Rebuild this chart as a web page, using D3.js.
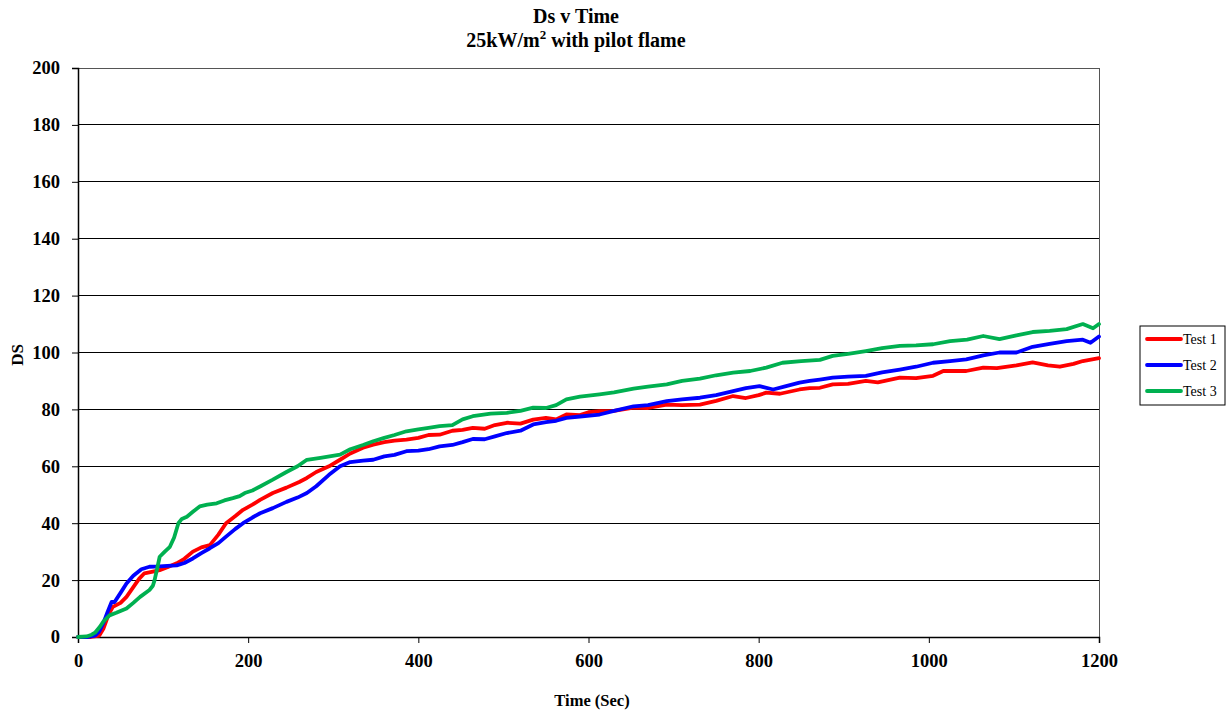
<!DOCTYPE html>
<html>
<head>
<meta charset="utf-8">
<script src="https://cdn.jsdelivr.net/npm/d3@7"></script>
<style>
  body { margin: 0; background: #fff; }
  text { font-family: "Liberation Serif", "Times New Roman", serif; }
</style>
</head>
<body>
<div id="chart"></div>
<script>
// data: [time (s), Ds]
const test1 = [[0,0],[15,0],[25,0.5],[30,3],[36,8],[41,10.6],[50,12],[57,14.1],[65,17.5],[72,20.5],[78,22.4],[88,23],[96,23.5],[105,24.5],[116,25.9],[125,27.5],[135,30],[145,31.5],[155,32.3],[165,36],[174,40],[185,42.5],[194,44.7],[205,46.5],[214,48.2],[229,50.6],[245,52.5],[260,54.5],[269,55.9],[280,58],[295,60],[308,62.3],[320,64.5],[335,66.5],[347,67.6],[360,68.5],[372,69],[386,69.4],[400,70],[412,71],[425,71.1],[440,72.5],[452,72.8],[464,73.5],[478,73.2],[490,74.5],[504,75.3],[520,75],[535,76.4],[550,77],[562,76.5],[574,78.2],[590,78],[600,79],[613,79.4],[630,79.5],[653,80.6],[670,80.5],[692,81.7],[710,81.5],[731,81.7],[750,83],[770,84.7],[785,84],[800,85],[809,85.9],[825,85.5],[848,87],[860,87.5],[872,87.6],[887,88.8],[905,89],[926,90],[940,89.5],[966,91.2],[985,91],[1005,91.8],[1017,93.5],[1044,93.5],[1064,94.7],[1080,94.5],[1103,95.5],[1122,96.5],[1140,95.5],[1154,95],[1170,96],[1181,97],[1200,98]];

const test2 = [[0,0],[12,0],[20,0.5],[25,2],[30,5],[35,9],[39.5,12.3],[43,12.3],[50,15.5],[57,18.8],[65,21.5],[74.5,23.8],[84,24.7],[96,24.8],[105,25],[116,25.2],[125,26],[135,27.6],[145,29.5],[155,31.2],[165,33],[174,35.3],[185,38],[194,40],[205,42],[214,43.5],[229,45.3],[245,47.5],[258,49],[269,50.6],[280,53],[295,57],[308,60],[320,61.5],[335,62],[347,62.3],[360,63.5],[372,64],[386,65.3],[400,65.5],[412,66],[425,67],[440,67.5],[452,68.5],[464,69.6],[478,69.5],[490,70.5],[504,71.7],[520,72.5],[535,74.7],[550,75.5],[562,76],[574,77],[590,77.5],[613,78.2],[630,79.5],[653,81.1],[670,81.5],[692,82.9],[710,83.5],[731,84.1],[750,85],[770,86.4],[785,87.5],[801,88.2],[817,87],[830,88],[848,89.4],[860,90],[872,90.5],[887,91.2],[905,91.5],[926,91.8],[945,93],[966,94],[985,95],[1005,96.4],[1025,97],[1044,97.6],[1064,99],[1083,100],[1103,100],[1122,102],[1142,103],[1162,104],[1181,104.5],[1190,103.4],[1200,105.6]];

const test3 = [[0,0],[10,0.2],[16,0.8],[20,1.5],[25.5,3.5],[30,5.5],[37,7.6],[45,8.5],[57,10],[65,12],[73,14.1],[84,16.5],[88,18],[90,20],[93,24],[96,28.2],[102,30],[108,31.7],[113,35],[118,40],[122,41.5],[128,42.3],[135,44],[143,45.9],[152,46.5],[163,47],[172,48],[182,48.8],[190,49.5],[196,50.6],[205,51.5],[214,52.9],[229,55.3],[245,58],[258,60],[269,62.3],[285,63],[308,64.1],[320,66],[335,67.5],[347,68.8],[360,70],[372,71],[386,72.3],[400,73],[412,73.5],[425,74.1],[440,74.5],[452,76.5],[464,77.6],[485,78.5],[504,78.8],[520,79.5],[535,80.6],[550,80.5],[562,81.5],[574,83.5],[590,84.5],[613,85.3],[630,86],[653,87.3],[670,88],[692,88.8],[710,90],[731,90.8],[750,92],[770,92.9],[790,93.5],[809,94.7],[828,96.4],[850,97],[872,97.4],[887,98.8],[905,99.5],[926,100.5],[945,101.5],[966,102.3],[985,102.5],[1005,102.9],[1025,104],[1045,104.5],[1064,105.8],[1083,104.7],[1103,106],[1122,107.2],[1142,107.6],[1162,108.2],[1181,110],[1193,108.5],[1200,110]];

const seriesNames = ["Test 1", "Test 2", "Test 3"];
const seriesColors = ["#ff0000", "#0000ff", "#00b050"];
const xTicks = [0, 200, 400, 600, 800, 1000, 1200];
const yTicks = [0, 20, 40, 60, 80, 100, 120, 140, 160, 180, 200];

const width = 1230, height = 713;
const margin = {left: 78, right: 131, top: 68, bottom: 76};

const svg = d3.select("#chart").append("svg")
    .attr("width", width)
    .attr("height", height);

const x = d3.scaleLinear().domain([0, 1200]).range([margin.left, width - margin.right]);
const y = d3.scaleLinear().domain([0, 200]).range([height - margin.bottom, margin.top]);

// gridlines
svg.append("g")
    .selectAll("line")
    .data(yTicks)
    .join("line")
    .attr("x1", x(0)).attr("x2", x(1200))
    .attr("y1", d => y(d)).attr("y2", d => y(d))
    .attr("stroke", "#000")
    .attr("stroke-width", 1)
    .attr("shape-rendering", "crispEdges");

// plot frame
svg.append("rect")
    .attr("x", x(0)).attr("y", y(200))
    .attr("width", x(1200) - x(0)).attr("height", y(0) - y(200))
    .attr("fill", "none")
    .attr("stroke", "#555")
    .attr("shape-rendering", "crispEdges");

// axes
const xAxis = svg.append("g")
    .attr("transform", `translate(0,${y(0)})`)
    .call(d3.axisBottom(x).tickValues(xTicks).tickSize(6).tickPadding(11).tickFormat(d3.format("d")));
const yAxis = svg.append("g")
    .attr("transform", `translate(${x(0)},0)`)
    .call(d3.axisLeft(y).tickValues(yTicks).tickSize(6).tickPadding(12).tickFormat(d3.format("d")));

[xAxis, yAxis].forEach(a => {
    a.select(".domain").attr("stroke", "#000").attr("stroke-width", 1.5);
    a.selectAll(".tick line").attr("stroke", "#000");
    a.selectAll("text")
        .attr("fill", "#000")
        .style("font-family", "'Liberation Serif', serif")
        .style("font-size", "18.5px")
        .style("font-weight", "bold");
});

// lines
const line = d3.line()
    .x(d => x(d[0]))
    .y(d => y(d[1]));

[test1, test2, test3].forEach((data, i) => {
    svg.append("path")
        .datum(data)
        .attr("d", line)
        .attr("fill", "none")
        .attr("stroke", seriesColors[i])
        .attr("stroke-width", 3.8)
        .attr("stroke-linejoin", "round")
        .attr("stroke-linecap", "round");
});

// titles
const title = svg.append("text")
    .attr("x", 576).attr("y", 23)
    .attr("text-anchor", "middle")
    .style("font-size", "20px")
    .style("font-weight", "bold");
title.append("tspan").attr("x", 576).text("Ds v Time");
const sub = title.append("tspan").attr("x", 576).attr("dy", 24);
sub.append("tspan").text("25kW/m");
sub.append("tspan").attr("dy", -8).style("font-size", "13px").text("2");
sub.append("tspan").attr("dy", 8).text(" with pilot flame");

svg.append("text")
    .attr("x", 592).attr("y", 706)
    .attr("text-anchor", "middle")
    .style("font-size", "16.5px")
    .style("font-weight", "bold")
    .text("Time (Sec)");

svg.append("text")
    .attr("transform", "translate(23,355) rotate(-90)")
    .attr("text-anchor", "middle")
    .style("font-size", "17px")
    .style("font-weight", "bold")
    .text("DS");

// legend
const legend = svg.append("g").attr("transform", "translate(1140,326)");
legend.append("rect")
    .attr("width", 85).attr("height", 79)
    .attr("fill", "#fff")
    .attr("stroke", "#000");
seriesNames.forEach((name, i) => {
    const g = legend.append("g").attr("transform", `translate(0,${13 + i * 26})`);
    g.append("line")
        .attr("x1", 7).attr("x2", 41)
        .attr("stroke", seriesColors[i])
        .attr("stroke-width", 3.8)
        .attr("stroke-linecap", "round");
    g.append("text")
        .attr("x", 43).attr("y", 5)
        .style("font-size", "14px")
        .text(name);
});
</script>
</body>
</html>
